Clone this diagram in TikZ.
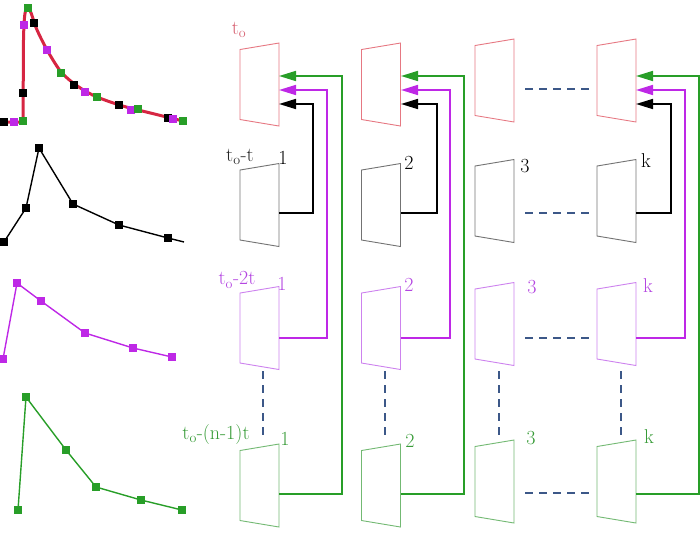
\documentclass[tikz,border=0pt]{standalone}
\usetikzlibrary{arrows.meta}
\definecolor{cred}{RGB}{214,38,66}
\definecolor{tred}{RGB}{230,120,130}
\definecolor{lred}{RGB}{214,96,112}
\definecolor{cmag}{RGB}{190,40,230}
\definecolor{tmag}{RGB}{205,130,238}
\definecolor{lmag}{RGB}{180,70,225}
\definecolor{cgrn}{RGB}{40,158,40}
\definecolor{tgrn}{RGB}{115,185,115}
\definecolor{lgrn}{RGB}{55,155,55}
\definecolor{tgry}{RGB}{115,115,115}
\definecolor{cdash}{RGB}{60,88,136}
\tikzset{
  trapbox/.style={line width=0.9pt},
  conn/.style={line width=1.7pt, -{Triangle[length=17pt,width=10pt]}},
  dashln/.style={cdash, line width=1.4pt, dash pattern=on 8pt off 6pt},
  lbl/.style={inner sep=0pt, font=\fontsize{20}{22}\selectfont},
  graphln/.style={line width=1.4pt},
}
\newcommand\trap[4]{%
  \draw[trapbox,#4] (#2-19.5,#3-35) -- (#2+19.5,#3-41.5) -- (#2+19.5,#3+41.5) -- (#2-19.5,#3+35) -- cycle;
  \coordinate (#1) at (#2,#3);}
\newcommand\sq[2]{\fill[#1] #2 ++(-3.6,-3.6) rectangle ++(7.2,7.2);}
\begin{document}
\begin{tikzpicture}[x=1pt,y=-1pt]
\useasboundingbox (0,0) rectangle (700,533);

% ---- left graphs ----
\draw[cred, line width=3pt, line join=round] (4,122) -- (23,122) -- (23.5,40)
  .. controls (24,16) and (25,7) .. (28,8)
  .. controls (30.5,9) and (32,16) .. (35,25)
  .. controls (40,38) and (52,60) .. (61,72)
  .. controls (70,82) and (85,92) .. (97,97)
  .. controls (112,103) and (125,107) .. (138,110)
  .. controls (155,114) and (170,118) .. (183,121);
\foreach \p in {(4,122),(23,93),(34,23),(74,85),(119,105),(168,118)} {\sq{black}{\p}}
\foreach \p in {(14,122),(24,25),(47,50),(85,92),(131,110),(173,119)} {\sq{cmag}{\p}}
\foreach \p in {(23,121),(28,8),(61,73),(97,97),(138,109),(183,121)} {\sq{cgrn}{\p}}

\draw[graphln, black] (4,242) -- (26,208) -- (39,148) -- (73,204) -- (119,225) -- (168,238) -- (184,242);
\foreach \p in {(4,242),(26,208),(39,148),(73,204),(119,225),(168,238)} {\sq{black}{\p}}

\draw[graphln, cmag] (3,359) -- (17,283) -- (41,301) -- (85,333) -- (133,348) -- (172,357);
\foreach \p in {(3,359),(17,283),(41,301),(85,333),(133,348),(172,357)} {\sq{cmag}{\p}}

\draw[graphln, cgrn] (18,510) -- (26,397) -- (66,450) -- (96,487) -- (141,500) -- (182,510);
\foreach \p in {(18,510),(26,397),(66,450),(96,487),(141,500),(182,510)} {\sq{cgrn}{\p}}

% ---- trapezoids ----
\trap{T11}{259.5}{84.5}{tred}
\trap{T21}{381}{84.5}{tred}
\trap{T31}{494.5}{80.5}{tred}
\trap{T41}{616.5}{80.5}{tred}
\trap{T12}{259.5}{205}{tgry}
\trap{T22}{381}{205}{tgry}
\trap{T32}{494.5}{201}{tgry}
\trap{T42}{616.5}{201}{tgry}
\trap{T13}{259.5}{328}{tmag}
\trap{T23}{381}{328}{tmag}
\trap{T33}{494.5}{324}{tmag}
\trap{T43}{616.5}{324}{tmag}
\trap{T14}{259.5}{485.5}{tgrn}
\trap{T24}{381}{485.5}{tgrn}
\trap{T34}{494.5}{481.5}{tgrn}
\trap{T44}{616.5}{481.5}{tgrn}

% ---- row labels ----
\node[lbl, text=lred] (L1) at (239,30) {t\textsubscript{o}};
\node[lbl, text=black!85] (L2) at (240,157) {t\textsubscript{o}-t};
\node[lbl, text=lmag] (L3) at (237,280) {t\textsubscript{o}-2t};
\node[lbl, text=lgrn] (L4) at (216,434) {t\textsubscript{o}-(n-1)t};

% ---- column numbers ----
\node[lbl, text=black] (n12) at (283,158) {1};
\node[lbl, text=black] (n22) at (409,163) {2};
\node[lbl, text=black] (n32) at (525,166) {3};
\node[lbl, text=black] (n42) at (646,161) {k};
\node[lbl, text=lmag] (n13) at (282,284) {1};
\node[lbl, text=lmag] (n23) at (409,285) {2};
\node[lbl, text=lmag] (n33) at (532,287) {3};
\node[lbl, text=lmag] (n43) at (648,286) {k};
\node[lbl, text=lgrn] (n14) at (285,439) {1};
\node[lbl, text=lgrn] (n24) at (410,441) {2};
\node[lbl, text=lgrn] (n34) at (531,438) {3};
\node[lbl, text=lgrn] (n44) at (649,437) {k};

% ---- connector end points ----
\foreach \c/\r in {1/279,2/401,4/636} {
  \coordinate (g\c) at (\r,76);
  \coordinate (m\c) at (\r,90);
  \coordinate (b\c) at (\r,104);
  \coordinate (bo\c) at (\r,213);
  \coordinate (mo\c) at (\r,338);
  \coordinate (go\c) at (\r,494);
}
\foreach \c/\xb/\xm/\xg in {1/313/327/342, 2/437/450/464, 4/671/685/699} {
  \draw[conn, black] (bo\c) -- (\xb,213) -- (\xb,104) -- (b\c);
  \draw[conn, cmag] (mo\c) -- (\xm,338) -- (\xm,90) -- (m\c);
  \draw[conn, cgrn] (go\c) -- (\xg,494) -- (\xg,76) -- (g\c);
}

% ---- dashed ----
\foreach \y in {89,213,338,493} {
  \coordinate (dl\y) at (525,\y);
  \coordinate (dr\y) at (590,\y);
  \draw[dashln] (dl\y) -- (dr\y);
}
\foreach \x in {263,385,499,621} {
  \coordinate (dt\x) at (\x,371);
  \coordinate (db\x) at (\x,437);
  \draw[dashln] (dt\x) -- (db\x);
}
\end{tikzpicture}
\end{document}
